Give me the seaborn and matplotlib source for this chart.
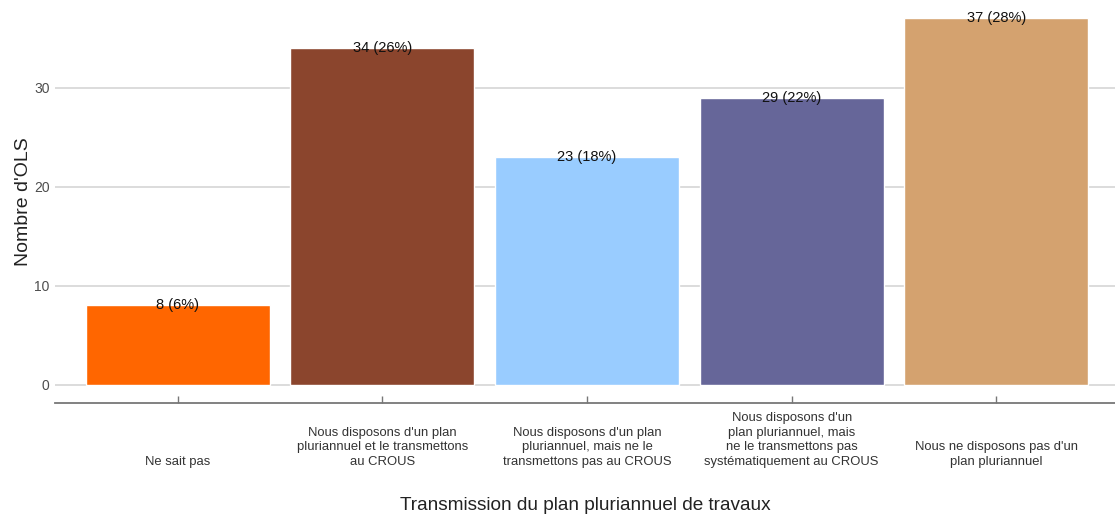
import matplotlib
matplotlib.use("Agg")
import matplotlib.pyplot as plt
import seaborn as sns
import pandas as pd

categories = [
    "Ne sait pas",
    "Nous disposons d'un plan\npluriannuel et le transmettons\nau CROUS",
    "Nous disposons d'un plan\npluriannuel, mais ne le\ntransmettons pas au CROUS",
    "Nous disposons d'un\nplan pluriannuel, mais\nne le transmettons pas\nsystématiquement au CROUS",
    "Nous ne disposons pas d'un\nplan pluriannuel",
]
counts = [8, 34, 23, 29, 37]
bar_colors = ["#FF6600", "#8B452D", "#99CCFF", "#666699", "#D4A26F"]

total = sum(counts)
labels = [f"{c} ({round(100 * c / total)}%)" for c in counts]

df = pd.DataFrame({"cat": categories, "n": counts})

sns.set_theme(style="white")
plt.rcParams["font.family"] = ["Liberation Sans", "DejaVu Sans"]

fig = plt.figure(figsize=(11.15, 5.18), dpi=100)
ax = fig.add_axes([55 / 1115, 115 / 518, 1 - 55 / 1115, 1 - 115 / 518])

sns.barplot(data=df, x="cat", y="n", hue="cat", palette=bar_colors,
            legend=False, width=0.9, saturation=1, ax=ax, zorder=2)

for i, (c, lab) in enumerate(zip(counts, labels)):
    ax.text(i, c, lab, ha="center", va="center", fontsize=10.5, color="#111111", zorder=3)

ax.set_xlim(-0.6, 4.58)
ax.set_ylim(-1.85, 38.85)
ax.set_yticks([0, 10, 20, 30])
ax.yaxis.grid(True, color="#DCDCDC", linewidth=1.4, zorder=0)
ax.xaxis.grid(False)

for s in ["top", "right", "left"]:
    ax.spines[s].set_visible(False)
ax.spines["bottom"].set_color("#777777")
ax.spines["bottom"].set_linewidth(1.3)

ax.tick_params(axis="y", left=False, length=0, pad=4, labelsize=10, labelcolor="#4D4D4D")
ax.tick_params(axis="x", bottom=True, direction="in", length=5, width=1, color="#777777",
               pad=46.5, labelsize=9.4, labelcolor="#333333")
for t in ax.get_xticklabels():
    t.set_va("bottom")
    t.set_multialignment("center")
    t.set_linespacing(1.28)

ax.set_xlabel("Transmission du plan pluriannuel de travaux", fontsize=13.7,
              color="#222222", labelpad=21)
ax.set_ylabel("Nombre d'OLS", fontsize=14, color="#222222", labelpad=1)

fig.savefig("out.png", dpi=100)
